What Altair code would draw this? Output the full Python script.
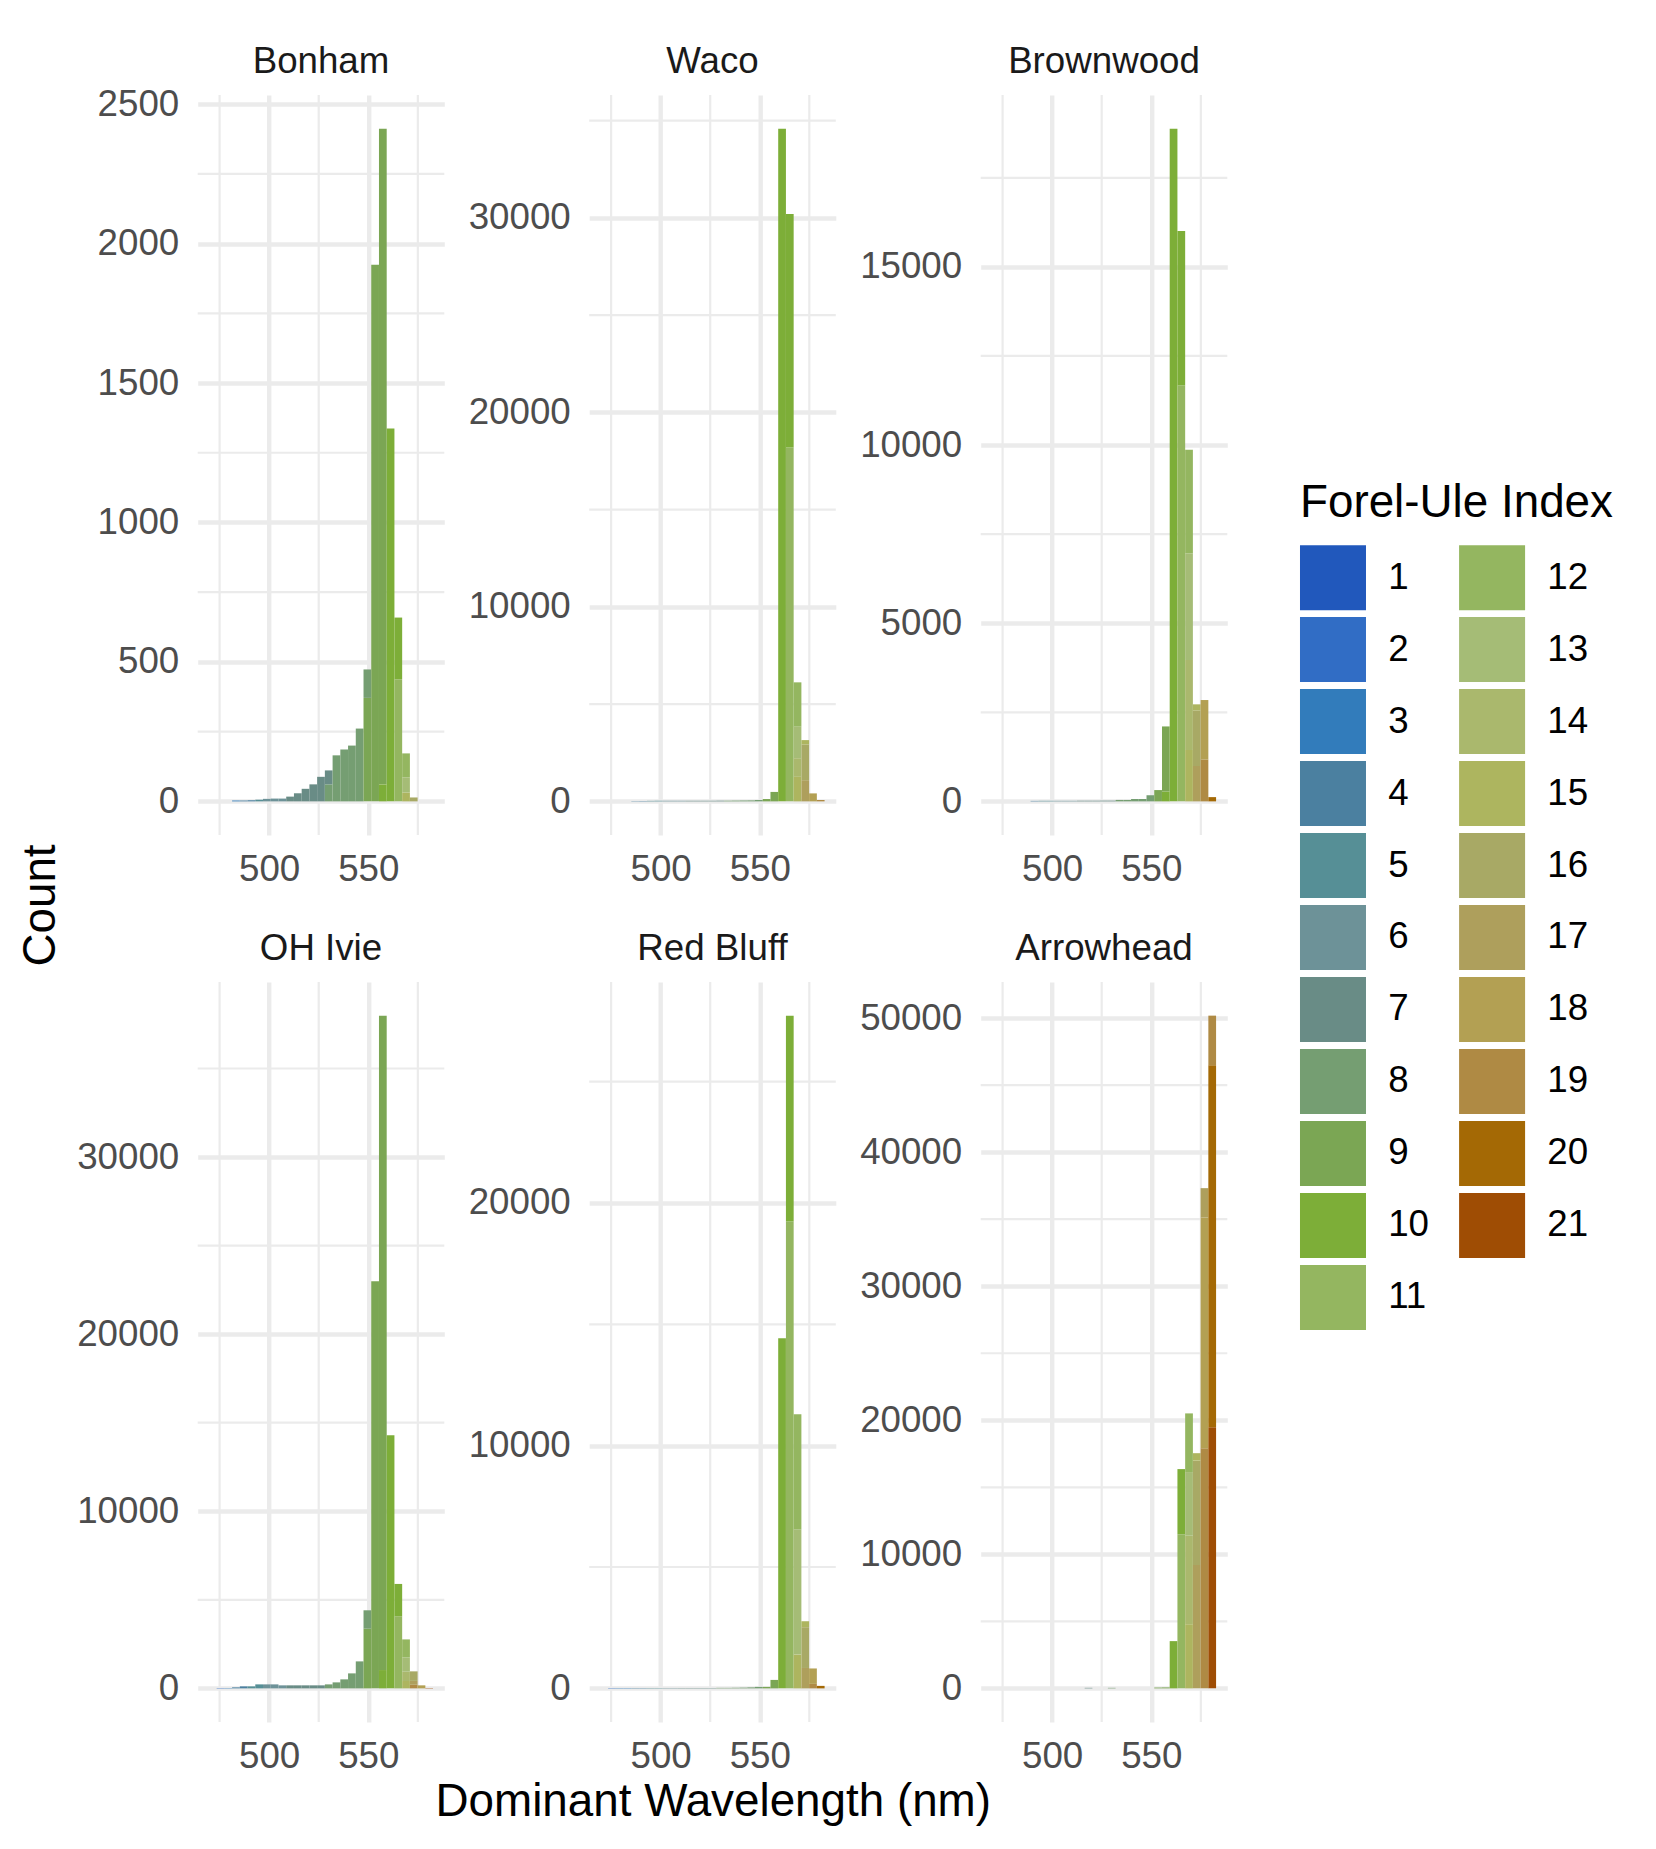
import altair as alt
import pandas as pd

FONT = "Liberation Sans"

LAKES = ["Bonham", "Waco", "Brownwood", "OH Ivie", "Red Bluff", "Arrowhead"]

# histogram bins (nm)
BIN_START = [469.6, 473.5, 477.4, 481.3, 485.2, 489.1, 493.0, 496.9, 500.8, 504.7,
             508.6, 512.5, 516.4, 520.3, 524.2, 528.1, 532.0, 535.9, 539.8, 543.7,
             547.6, 551.5, 555.4, 559.3, 563.2, 567.1, 571.0, 574.9, 578.8]
BIN_END = [473.5, 477.4, 481.3, 485.2, 489.1, 493.0, 496.9, 500.8, 504.7, 508.6,
           512.5, 516.4, 520.3, 524.2, 528.1, 532.0, 535.9, 539.8, 543.7, 547.6,
           551.5, 555.4, 559.3, 563.2, 567.1, 571.0, 574.9, 578.8, 582.7]

FUI_LEVELS = list(range(1, 22))
FUI_COLORS = ["#2158bc", "#316dc5", "#327cbb", "#4b80a0", "#568f96", "#6d9298", "#698c86",
              "#759e72", "#7ba654", "#7dae38", "#94b660", "#94b660", "#a5bc76", "#aab86d",
              "#adb55f", "#a8a965", "#ae9f5c", "#b3a053", "#af8a44", "#a46905", "#9f4d04"]

# (bin index, FUI, count)
BONHAM = [(3, 3, 3), (4, 4, 3), (5, 4, 4), (6, 5, 6), (7, 6, 9), (8, 6, 10), (9, 6, 10),
          (10, 7, 17), (11, 7, 29), (12, 7, 45), (13, 7, 61), (14, 7, 88), (15, 8, 61),
          (15, 7, 50), (16, 8, 165), (17, 8, 186), (18, 8, 200), (19, 8, 261), (20, 9, 371),
          (20, 8, 102), (21, 9, 1924), (22, 10, 61), (22, 9, 2351), (23, 10, 1337),
          (24, 11, 438), (24, 10, 221), (25, 15, 32), (25, 13, 54), (25, 11, 86), (26, 16, 14)]
WACO = [(4, 4, 15), (5, 4, 20), (6, 5, 25), (7, 5, 30), (8, 6, 30), (9, 6, 30), (10, 6, 30),
        (11, 7, 30), (12, 7, 30), (13, 7, 30), (14, 7, 30), (15, 7, 35), (16, 8, 35),
        (17, 8, 40), (18, 8, 45), (19, 8, 50), (20, 8, 70), (21, 9, 120), (22, 9, 485),
        (23, 10, 34590), (24, 11, 18200), (24, 10, 12000), (25, 15, 1260), (25, 14, 960),
        (25, 13, 1620), (25, 11, 2280), (26, 17, 1090), (26, 16, 1840), (26, 15, 220),
        (27, 18, 410), (28, 19, 70)]
BROWNWOOD = [(5, 4, 13), (6, 5, 15), (7, 5, 15), (8, 6, 15), (9, 6, 15), (10, 6, 15),
             (11, 7, 18), (12, 7, 18), (13, 7, 18), (14, 7, 20), (15, 7, 20), (16, 8, 40),
             (17, 8, 40), (18, 8, 66), (19, 8, 66), (20, 8, 172), (21, 9, 317), (22, 10, 278),
             (22, 9, 1825), (23, 10, 18880), (24, 11, 11670), (24, 10, 4340), (25, 15, 1442),
             (25, 14, 2526), (25, 13, 2990), (25, 11, 2910), (26, 17, 992), (26, 16, 1561),
             (26, 15, 170), (27, 19, 1177), (27, 18, 1667), (28, 20, 119)]
OH_IVIE = [(1, 2, 20), (2, 3, 20), (3, 4, 56), (4, 4, 113), (5, 5, 113), (6, 5, 225),
           (7, 6, 225), (8, 6, 225), (9, 6, 170), (10, 7, 170), (11, 7, 170), (12, 7, 170),
           (13, 7, 170), (14, 7, 170), (15, 8, 225), (16, 8, 338), (17, 8, 508), (18, 8, 846),
           (19, 8, 1523), (20, 9, 3369), (20, 8, 1039), (21, 9, 22990), (22, 10, 1034),
           (22, 9, 36950), (23, 10, 14290), (24, 11, 4071), (24, 10, 1825), (25, 15, 414),
           (25, 14, 526), (25, 13, 808), (25, 11, 1016), (26, 19, 200), (26, 17, 220),
           (26, 16, 540), (27, 18, 170), (28, 21, 19)]
RED_BLUFF = [(1, 2, 15), (2, 3, 15), (3, 3, 15), (4, 4, 15), (5, 4, 15), (6, 5, 15),
             (7, 5, 15), (8, 6, 15), (9, 6, 15), (10, 7, 15), (11, 7, 15), (12, 7, 15),
             (13, 7, 15), (14, 7, 15), (15, 8, 20), (16, 8, 20), (17, 8, 25), (18, 8, 30),
             (19, 8, 40), (20, 8, 60), (21, 9, 60), (22, 9, 348), (23, 10, 14430),
             (24, 11, 19240), (24, 10, 8480), (25, 15, 1393), (25, 13, 5164), (25, 11, 4733),
             (26, 17, 840), (26, 16, 1680), (26, 15, 246), (27, 19, 184), (27, 18, 636),
             (28, 20, 102)]
ARROWHEAD = [(12, 7, 37), (15, 8, 37), (21, 9, 60), (22, 9, 70), (23, 10, 3524),
             (24, 11, 11499), (24, 10, 4858), (25, 15, 4785), (25, 14, 6602), (25, 13, 4748),
             (25, 11, 4377), (26, 17, 9199), (26, 16, 7789), (26, 15, 556), (27, 19, 17915),
             (27, 18, 17211), (27, 17, 2189), (28, 21, 19473), (28, 20, 27003), (28, 19, 3709)]

SEGMENTS = {"Bonham": BONHAM, "Waco": WACO, "Brownwood": BROWNWOOD,
            "OH Ivie": OH_IVIE, "Red Bluff": RED_BLUFF, "Arrowhead": ARROWHEAD}

X_MAJOR = [500, 550]
X_MINOR = [475, 525, 575]
Y_MAJOR = {"Bonham": [0, 500, 1000, 1500, 2000, 2500],
           "Waco": [0, 10000, 20000, 30000],
           "Brownwood": [0, 5000, 10000, 15000],
           "OH Ivie": [0, 10000, 20000, 30000],
           "Red Bluff": [0, 10000, 20000],
           "Arrowhead": [0, 10000, 20000, 30000, 40000, 50000]}
Y_MINOR = {"Bonham": [250, 750, 1250, 1750, 2250],
           "Waco": [5000, 15000, 25000, 35000],
           "Brownwood": [2500, 7500, 12500, 17500],
           "OH Ivie": [5000, 15000, 25000, 35000],
           "Red Bluff": [5000, 15000, 25000],
           "Arrowhead": [5000, 15000, 25000, 35000, 45000]}

W, H = 246.6, 740
GRID = "#EBEBEB"
MAJOR_W, MINOR_W = 4.4, 2.2

span = BIN_END[-1] - BIN_START[0]
XDOM = [BIN_START[0] - 0.05 * span, BIN_END[-1] + 0.05 * span]

color_enc = alt.Color(
    "fui:N",
    scale=alt.Scale(domain=FUI_LEVELS, range=FUI_COLORS),
    legend=alt.Legend(
        title="Forel-Ule Index", orient="none", legendX=1102.3, legendY=385.7,
        columns=2, symbolType="M-1,-0.985H1V0.985H-1Z", symbolSize=4356,
        symbolStrokeWidth=0, symbolOpacity=1, labelFontSize=36.7, labelFont=FONT,
        labelColor="black", titleFont=FONT, titleFontSize=45.8, titleColor="black",
        titleFontWeight="normal", labelOffset=22.2, rowPadding=6, columnPadding=29.1,
        titlePadding=18, labelLimit=0, titleLimit=0,
    ),
)


def panel(lake):
    segs = SEGMENTS[lake]
    df = pd.DataFrame({
        "bin": [b for b, f, c in segs],
        "fui": [f for b, f, c in segs],
        "count": [c for b, f, c in segs],
    })
    df["x0"] = [BIN_START[b] for b in df["bin"]]
    df["x1"] = [BIN_END[b] for b in df["bin"]]
    # stack: highest FUI at the bottom of each bin
    df = df.sort_values(["bin", "fui"], ascending=[True, False]).reset_index(drop=True)
    df["y1"] = df.groupby("bin")["count"].cumsum()
    df["y0"] = df["y1"] - df["count"]
    top = df["y1"].max()
    ys = alt.Scale(domain=[-0.05 * top, 1.05 * top], nice=False, zero=False)
    xs = alt.Scale(domain=XDOM, nice=False, zero=False)
    xaxis = alt.Axis(values=X_MAJOR, title=None, format="d")
    yaxis = alt.Axis(values=Y_MAJOR[lake], title=None, format="d")
    vx = alt.Chart(pd.DataFrame({"v": X_MINOR})).mark_rule(
        color=GRID, strokeWidth=MINOR_W).encode(x=alt.X("v:Q", scale=xs, axis=xaxis))
    vy = alt.Chart(pd.DataFrame({"v": Y_MINOR[lake]})).mark_rule(
        color=GRID, strokeWidth=MINOR_W).encode(y=alt.Y("v:Q", scale=ys, axis=yaxis))
    bars = alt.Chart(df).mark_rect(strokeWidth=0, opacity=1).encode(
        x=alt.X("x0:Q", scale=xs, axis=xaxis),
        x2="x1:Q",
        y=alt.Y("y1:Q", scale=ys, axis=yaxis),
        y2="y0:Q",
        color=color_enc,
    )
    strip = alt.Chart(pd.DataFrame({"lake": [lake]})).mark_text(
        align="center", baseline="alphabetic", fontSize=36.7, font=FONT, color="#1A1A1A"
    ).encode(x=alt.value(W / 2), y=alt.value(-22), text="lake:N")
    return alt.layer(vx, vy, bars, strip).properties(width=W, height=H)


row1 = alt.hconcat(*[panel(l) for l in LAKES[:3]], spacing=18.5)
row2 = alt.hconcat(*[panel(l) for l in LAKES[3:]], spacing=18.5)
grid = alt.vconcat(row1, row2, spacing=42).properties(
    title=alt.TitleParams("Dominant Wavelength (nm)", orient="bottom", anchor="middle",
                          fontSize=45.8, font=FONT, color="black", fontWeight="normal",
                          offset=5, dx=62.7)
)
chart = alt.hconcat(grid).properties(
    title=alt.TitleParams("Count", orient="left", anchor="middle", fontSize=45.8,
                          font=FONT, color="black", fontWeight="normal", offset=7.7,
                          dx=29),
    padding={"left": 17.7, "top": 44, "right": 10, "bottom": 2},
).configure_view(stroke=None).configure_axis(
    labelFont=FONT, labelFontSize=36.7, labelColor="#4D4D4D", ticks=False, domain=False,
    gridColor=GRID, gridWidth=MAJOR_W,
).configure_axisY(labelPadding=19, minExtent=125, maxExtent=125).configure_axisX(
    labelPadding=16.5
).configure_legend(labelFont=FONT)

chart.save("out.html", embed_options={"renderer": "svg", "actions": False})
